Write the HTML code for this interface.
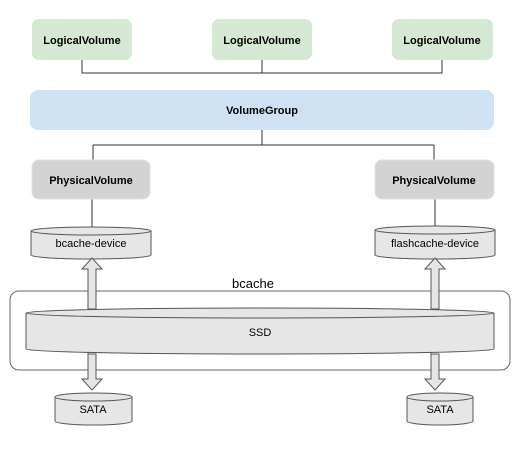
<!DOCTYPE html>
<html><head><style>
body{margin:0;background:#fff;}
svg text{font-family:"Liberation Sans",Arial,sans-serif;}
</style></head><body>
<svg width="530" height="445" viewBox="0 0 530 445" xmlns="http://www.w3.org/2000/svg">
<g stroke="#333" stroke-width="1" fill="none">
<path d="M82 60V73H442V60M262 60V73"/>
<path d="M262 130V145M93 145H434M93 145V160M434 145V160"/>
<path d="M92 199V237M435 199V237"/>
</g>
<g fill="#d5e8d4">
<rect x="32" y="19" width="100" height="41" rx="7"/>
<rect x="212" y="19" width="100" height="41" rx="7"/>
<rect x="392" y="19" width="101" height="41" rx="7"/>
</g>
<rect x="30" y="90" width="464" height="40" rx="8" fill="#cfe2f3"/>
<g fill="#d3d3d3" stroke="#e0e0e0">
<rect x="32" y="160" width="118" height="39" rx="7"/>
<rect x="375" y="160" width="119" height="39" rx="7"/>
</g>
<g font-size="11" font-weight="bold" fill="#000" text-anchor="middle">
<text x="82" y="44">LogicalVolume</text>
<text x="262" y="44">LogicalVolume</text>
<text x="442" y="44">LogicalVolume</text>
<text x="262" y="114">VolumeGroup</text>
<text x="91" y="184">PhysicalVolume</text>
<text x="434" y="184">PhysicalVolume</text>
</g>
<rect x="10" y="291" width="500" height="79" rx="9" fill="none" stroke="#666"/>
<g stroke="#555" fill="#e6e6e6">
<path d="M31 231a60 4 0 0 1 120 0v24a60 4 0 0 1-120 0z"/>
<path d="M31 231a60 4 0 0 0 120 0" fill="none"/>
<path d="M375 230a60 4 0 0 1 120 0v25a60 4 0 0 1-120 0z"/>
<path d="M375 230a60 4 0 0 0 120 0" fill="none"/>
<path d="M55 397a38.5 4 0 0 1 77 0v24a38.5 4 0 0 1-77 0z"/>
<path d="M55 397a38.5 4 0 0 0 77 0" fill="none"/>
<path d="M407 397a33 4 0 0 1 66 0v24a33 4 0 0 1-66 0z"/>
<path d="M407 397a33 4 0 0 0 66 0" fill="none"/>
<path d="M88 332V354h8V379h6l-10 11l-10-11h6V354"/>
<path d="M431 332V354h8V379h6l-10 11l-10-11h6V354"/>
<path d="M26 313a234 5 0 0 1 468 0v36a234 5 0 0 1-468 0z"/>
<path d="M26 313a234 5 0 0 0 468 0" fill="none"/>
<path d="M88 309V269h-6l10-11l10 11h-6V309z"/>
<path d="M431 309V269h-6l10-11l10 11h-6V309z"/>
</g>
<g font-size="11" fill="#000" text-anchor="middle">
<text x="91" y="247">bcache-device</text>
<text x="435" y="247">flashcache-device</text>
<text x="93" y="413">SATA</text>
<text x="440" y="413">SATA</text>
<text x="260" y="336">SSD</text>
<text x="253" y="288" font-size="13">bcache</text>
</g>
</svg>
</body></html>
